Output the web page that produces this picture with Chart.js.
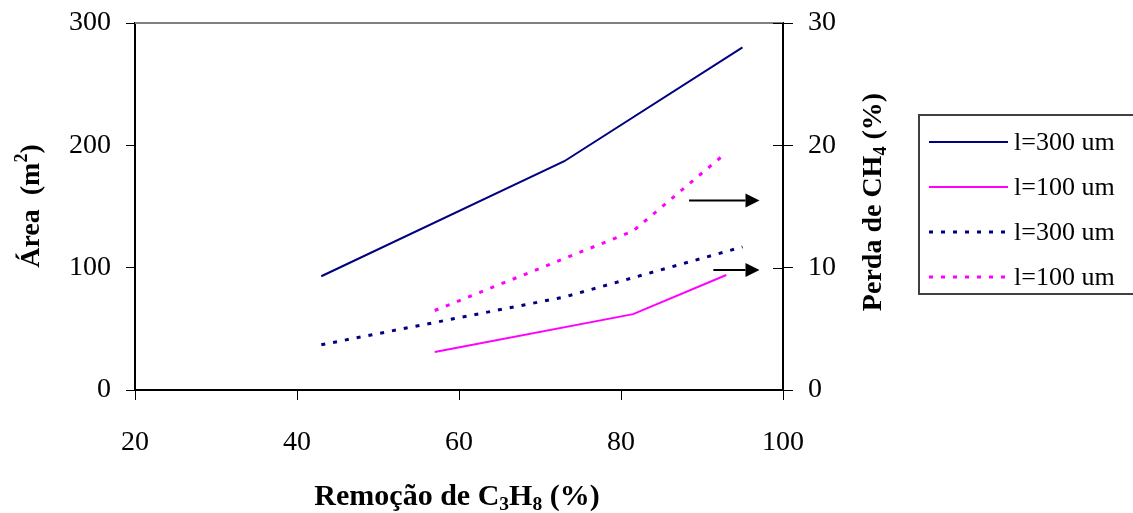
<!DOCTYPE html>
<html>
<head>
<meta charset="utf-8">
<script src="https://cdn.jsdelivr.net/npm/chart.js@4"></script>
<style>
  html, body { margin: 0; padding: 0; background: #fff; }
  #wrap { width: 1133px; height: 513px; }
</style>
</head>
<body>
<div id="wrap"><canvas id="grafico" width="1133" height="513"></canvas></div>
<script>
// Remoção de C3H8 (%) e valores de cada curva
const remocao300 = [43, 73, 95];
const area300 = [93, 187, 280];
const remocao100 = [57, 81.5, 93];
const area100 = [31, 62, 94];
const perda300 = [3.7, 7.6, 11.7];
const perda100 = [6.5, 13.0, 19.4];

const legendas = ['l=300 um', 'l=100 um', 'l=300 um', 'l=100 um'];

const xTicks = [20, 40, 60, 80, 100];
const yTicks = [0, 100, 200, 300];
const y2Ticks = [0, 10, 20, 30];

// setas indicando as curvas do eixo da direita (x em %, y no eixo da direita)
const setas = [
    { de: 88.4, ate: 97.1, y: 15.5 },
    { de: 91.4, ate: 97.1, y: 9.8 }
];

const NAVY = '#000080';
const MAGENTA = '#ff00ff';
const FONTE = '"Liberation Serif", "Times New Roman", serif';

function pontos(xs, ys) {
    return xs.map((x, i) => ({ x: x, y: ys[i] }));
}

// escreve texto com partes em subscrito/sobrescrito, centrado em (0,0)
function textoRico(ctx, partes, tam, negrito) {
    const peso = negrito ? 'bold ' : '';
    let larg = 0;
    partes.forEach(p => {
        const t = p.s ? tam * 0.65 : tam;
        ctx.font = peso + t + 'px ' + FONTE;
        p.w = ctx.measureText(p.t).width;
        larg += p.w;
    });
    let x = -larg / 2;
    ctx.textBaseline = 'alphabetic';
    ctx.textAlign = 'left';
    partes.forEach(p => {
        const t = p.s ? tam * 0.65 : tam;
        ctx.font = peso + t + 'px ' + FONTE;
        let dy = tam * 0.33;
        if (p.s === 'sub') dy += tam * 0.18;
        if (p.s === 'sup') dy -= tam * 0.42;
        ctx.fillText(p.t, x, dy);
        x += p.w;
    });
}

const extras = {
    id: 'extras',
    afterDraw(chart) {
        const ctx = chart.ctx;
        const a = chart.chartArea;
        const sx = chart.scales.x, sy2 = chart.scales.y2;
        ctx.save();

        // linha superior da área do gráfico
        ctx.strokeStyle = '#808080';
        ctx.lineWidth = 2;
        ctx.beginPath();
        ctx.moveTo(a.left, a.top);
        ctx.lineTo(a.right, a.top);
        ctx.stroke();

        // marcas do eixo da direita cruzando o eixo
        ctx.strokeStyle = '#000';
        ctx.lineWidth = 1;
        y2Ticks.forEach(v => {
            const py = Math.round(sy2.getPixelForValue(v)) + 0.5;
            ctx.beginPath();
            ctx.moveTo(a.right - 10, py);
            ctx.lineTo(a.right, py);
            ctx.stroke();
        });

        // setas
        ctx.fillStyle = '#000';
        ctx.lineWidth = 2;
        setas.forEach(s => {
            const x0 = sx.getPixelForValue(s.de);
            const x1 = sx.getPixelForValue(s.ate);
            const py = sy2.getPixelForValue(s.y);
            ctx.beginPath();
            ctx.moveTo(x0, py);
            ctx.lineTo(x1 - 14, py);
            ctx.stroke();
            ctx.beginPath();
            ctx.moveTo(x1, py);
            ctx.lineTo(x1 - 14, py - 7);
            ctx.lineTo(x1 - 14, py + 7);
            ctx.closePath();
            ctx.fill();
        });

        // títulos dos eixos
        ctx.fillStyle = '#000';
        ctx.save();
        ctx.translate(457, 495);
        textoRico(ctx, [{ t: 'Remoção de C' }, { t: '3', s: 'sub' }, { t: 'H' }, { t: '8', s: 'sub' }, { t: ' (%)' }], 30, true);
        ctx.restore();

        ctx.save();
        ctx.translate(30, 206);
        ctx.rotate(-Math.PI / 2);
        textoRico(ctx, [{ t: 'Área  (m' }, { t: '2', s: 'sup' }, { t: ')' }], 28, true);
        ctx.restore();

        ctx.save();
        ctx.translate(872, 202);
        ctx.rotate(-Math.PI / 2);
        textoRico(ctx, [{ t: 'Perda de CH' }, { t: '4', s: 'sub' }, { t: ' (%)' }], 28, true);
        ctx.restore();

        // legenda
        ctx.strokeStyle = '#404040';
        ctx.lineWidth = 2;
        ctx.strokeRect(919, 115, 240, 179);
        chart.data.datasets.forEach((ds, i) => {
            const py = 142 + i * 45;
            ctx.strokeStyle = ds.borderColor;
            ctx.lineWidth = ds.borderWidth;
            ctx.setLineDash(ds.borderDash || []);
            ctx.beginPath();
            ctx.moveTo(929, py);
            ctx.lineTo(1008, py);
            ctx.stroke();
            ctx.setLineDash([]);
            ctx.fillStyle = '#000';
            ctx.font = '26px ' + FONTE;
            ctx.textAlign = 'left';
            ctx.textBaseline = 'middle';
            ctx.fillText(legendas[i], 1014, py + 1);
        });
        ctx.restore();
    }
};

const eixoComum = {
    border: { display: true, color: '#000', width: 2 },
    grid: { display: true, drawOnChartArea: false, drawTicks: true, tickLength: 9, color: '#000' },
    ticks: { color: '#000', font: { family: FONTE, size: 28 } }
};

// largura fixa dos eixos verticais, sem folga extra para os rótulos no topo
function fixaEixoY(largura) {
    return s => {
        s.width = largura;
        s.paddingTop = 0;
        s.paddingBottom = 0;
    };
}

new Chart(document.getElementById('grafico'), {
    type: 'line',
    data: {
        datasets: [
            { label: legendas[0], data: pontos(remocao300, area300), yAxisID: 'y', borderColor: NAVY, borderWidth: 2 },
            { label: legendas[1], data: pontos(remocao100, area100), yAxisID: 'y', borderColor: MAGENTA, borderWidth: 2 },
            { label: legendas[2], data: pontos(remocao300, perda300), yAxisID: 'y2', borderColor: NAVY, borderWidth: 3, borderDash: [4, 8] },
            { label: legendas[3], data: pontos(remocao100, perda100), yAxisID: 'y2', borderColor: MAGENTA, borderWidth: 3, borderDash: [4, 8] }
        ]
    },
    options: {
        responsive: false,
        animation: false,
        elements: { point: { radius: 0 }, line: { tension: 0, fill: false } },
        layout: { padding: { left: 0, right: 220, top: 23, bottom: 0 } },
        plugins: { legend: { display: false }, tooltip: { enabled: false } },
        scales: {
            x: {
                type: 'linear', min: 20, max: 100,
                border: eixoComum.border,
                grid: { ...eixoComum.grid, tickLength: 10 },
                ticks: { ...eixoComum.ticks, stepSize: 20, padding: 26, maxRotation: 0,
                    callback: v => xTicks.includes(v) ? v : null },
                afterFit: s => { s.height = 123; s.paddingLeft = 0; s.paddingRight = 0; }
            },
            y: {
                type: 'linear', position: 'left', min: 0, max: 300,
                border: eixoComum.border,
                grid: eixoComum.grid,
                ticks: { ...eixoComum.ticks, stepSize: 100, padding: 15,
                    callback: v => yTicks.includes(v) ? v : null },
                afterFit: fixaEixoY(135)
            },
            y2: {
                type: 'linear', position: 'right', min: 0, max: 30,
                border: { display: true, color: '#000', width: 2 },
                grid: { ...eixoComum.grid, tickLength: 10 },
                ticks: { ...eixoComum.ticks, stepSize: 10, padding: 15,
                    callback: v => y2Ticks.includes(v) ? v : null },
                afterFit: fixaEixoY(130)
            }
        }
    },
    plugins: [extras]
});
</script>
</body>
</html>
